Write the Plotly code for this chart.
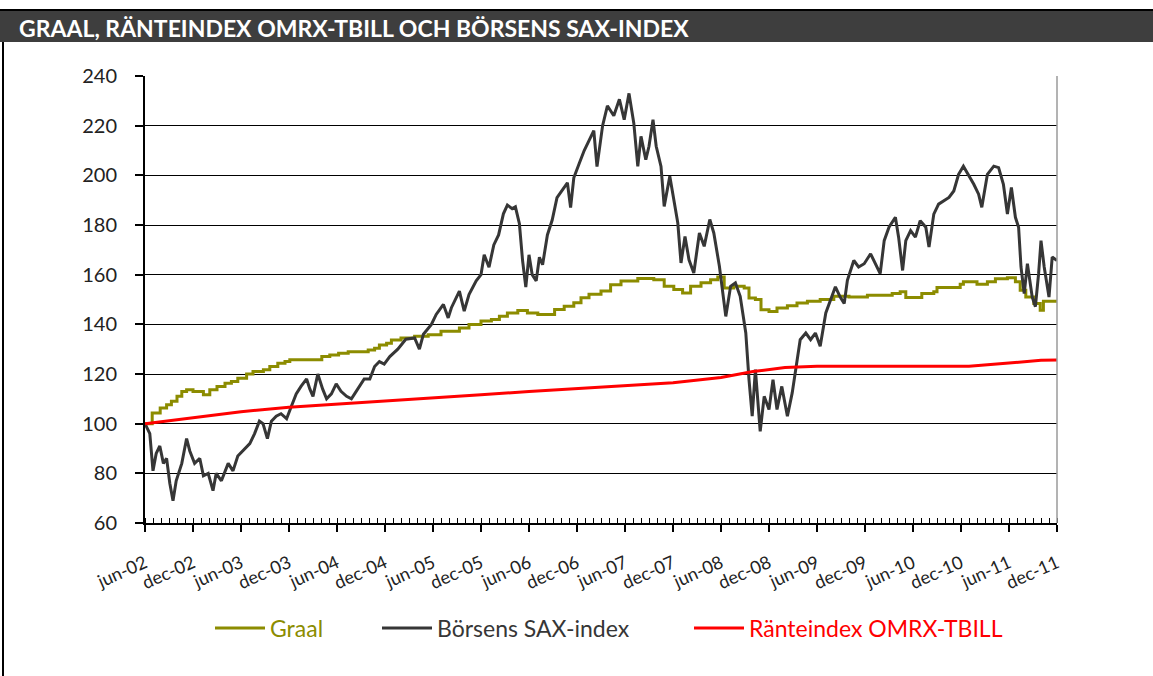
import plotly.graph_objects as go

# x values: months after June 2002
tick_labels = ["jun-02", "dec-02", "jun-03", "dec-03", "jun-04", "dec-04", "jun-05", "dec-05",
               "jun-06", "dec-06", "jun-07", "dec-07", "jun-08", "dec-08", "jun-09", "dec-09",
               "jun-10", "dec-10", "jun-11", "dec-11"]
tick_months = [6 * i for i in range(len(tick_labels))]

sax_m = [0.0, 0.6, 1.0, 1.4, 1.85, 2.3, 2.7, 3.1, 3.5, 3.9, 4.6, 5.2, 5.6, 6.2, 6.85, 7.3, 7.9, 8.5, 8.9,
         9.55, 10.4, 11.0, 11.6, 12.5, 13.1, 13.7, 14.3, 14.75, 15.3, 15.8, 16.4, 17.0, 17.7, 18.3, 18.9,
         19.5, 20.2, 20.6, 21.0, 21.6, 22.2, 22.7, 23.3, 23.9, 24.5, 25.2, 25.8, 26.2, 26.8, 27.4, 28.1,
         28.7, 29.3, 29.9, 30.6, 31.6, 32.6, 33.7, 34.3, 34.8, 35.8, 36.4, 37.3, 37.9, 38.3, 39.3, 39.9,
         40.5, 41.4, 42.0, 42.4, 43.0, 43.6, 44.2, 44.8, 45.3, 45.9, 46.3, 46.8, 47.2, 47.6, 48.0, 48.4,
         48.9, 49.3, 49.7, 50.3, 50.9, 51.5, 52.2, 52.8, 53.2, 53.6, 54.3, 54.9, 55.5, 56.1, 56.5, 57.2,
         57.8, 58.6, 59.3, 59.9, 60.5, 61.1, 61.6, 62.0, 62.6, 63.0, 63.5, 63.9, 64.5, 64.9, 65.6, 66.1,
         66.6, 67.0, 67.5, 68.0, 68.6, 69.3, 69.9, 70.6, 71.1, 71.8, 72.2, 72.6, 73.2, 73.8, 74.4, 75.1,
         75.5, 75.9, 76.3, 76.9, 77.4, 78.0, 78.5, 79.0, 79.6, 80.3, 80.9, 81.3, 81.9, 82.6, 83.2, 83.8,
         84.4, 85.1, 85.7, 86.3, 86.9, 87.4, 87.8, 88.6, 89.2, 89.9, 90.7, 91.3, 91.9, 92.4, 93.0, 93.8,
         94.2, 94.7, 95.1, 95.7, 96.3, 96.9, 97.6, 98.0, 98.6, 99.2, 99.9, 100.5, 101.1, 101.7, 102.3,
         102.9, 103.6, 104.2, 104.6, 105.3, 106.1, 106.7, 107.3, 107.8, 108.3, 108.8, 109.2, 109.5,
         109.9, 110.3, 110.9, 111.3, 111.7, 112.0, 112.4, 113.0, 113.4, 114.0]
sax_v = [100, 96, 81, 88, 91, 84, 86, 76, 69, 77, 84, 94, 89, 84, 86, 79, 80, 73, 80,
         77, 84, 81, 87, 90, 92, 96, 101, 100, 94, 101, 103, 104, 102, 107, 112,
         115, 118, 114, 111, 120, 114, 110, 112, 116, 113, 111, 110, 112, 115, 118, 118,
         123, 125, 124, 127, 130, 134, 134.5, 130, 136, 140, 144, 148, 142.6, 146.7, 153.4, 145.3,
         152, 157.5, 160, 168, 163, 172, 176, 184.5, 188, 186.6, 187.3, 180.5, 165.6, 155, 168, 160,
         157.5, 167, 164, 176, 182, 191, 194, 197, 187, 199, 205, 210, 214, 218, 203.5, 220,
         228, 224, 230.6, 222.4, 233, 221, 203.6, 215.7, 206.3, 211.7, 222.4, 211.7, 203.6, 187.5, 199.6, 190.2,
         180.8, 164.7, 175.4, 166, 160.7, 176.8, 171.4, 182.2, 176.8, 163.4, 154, 143.2, 155.3, 156.7, 151.3, 136.5,
         117.7, 103, 121.8, 96.9, 111, 105.7, 117.7, 105.7, 115, 103, 112.4, 120.4, 133.8, 136.5, 133.8, 136.5,
         131.2, 144.6, 150, 155.1, 151, 148.4, 157.7, 165.7, 163.1, 164.4, 168.4, 164.4, 160.4, 173.7, 179.1, 183.1,
         175.1, 161.7, 173.7, 177.7, 175.1, 181.7, 179.1, 171.1, 184.4, 188.4, 189.7, 191.1, 193.7, 200.4, 203.7,
         200.4, 196.4, 192.4, 187.1, 200.4, 203.7, 203.1, 196.4, 184.4, 195.1, 183.1, 179.1, 163.1,
         152.4, 164.4, 151, 147.1, 160.4, 173.7, 163.1, 151, 167.1, 165.7]

graal_m = [0, 0.9, 1.9, 2.7, 3.3, 4.0, 4.6, 5.2, 6.0, 7.3, 8.1, 9.0, 10.0, 10.8, 11.6, 12.7, 13.5, 14.8,
           15.6, 16.6, 17.5, 18.1, 22.1, 23.1, 24.2, 25.4, 27.9, 28.7, 29.3, 30.2, 30.8, 32.0, 33.7, 35.4,
           37.0, 39.3, 40.5, 42.0, 43.3, 44.3, 45.3, 46.6, 47.8, 49.1, 51.2, 52.4, 53.6, 54.5, 55.5, 57.0,
           58.2, 59.5, 61.6, 63.6, 64.9, 66.1, 67.2, 68.2, 69.5, 70.7, 71.6, 72.4, 73.6, 74.9, 75.5, 76.3,
           77.0, 78.0, 79.0, 80.3, 81.5, 82.8, 84.4, 86.1, 88.0, 90.3, 93.4, 94.4, 95.1, 97.1, 98.6, 99.0,
           101.9, 102.3, 104.0, 105.3, 106.3, 107.8, 108.8, 109.4, 110.1, 111.1, 111.9, 112.3, 114.0]
graal_v = [100, 104.3, 106.3, 107.6, 109, 111, 113, 113.7, 113, 111.6, 113.7, 115, 116.3, 117, 118.3, 120, 121, 121.7,
           123, 124.3, 125, 125.7, 127, 127.7, 128.4, 129, 129.7, 130.4, 131.7, 132.4, 133.7, 134.5, 135.2, 135.8,
           137.2, 138.5, 139.9, 141.3, 141.9, 143.3, 144.6, 145.6, 144.6, 144, 146, 147.3, 148.7, 150.7, 152.1, 153.4,
           155.9, 157.5, 158.5, 158, 155.3, 154, 152.6, 155.3, 156.7, 158, 159.1, 154.6, 155.3, 154.6, 150.6, 150,
           145.9, 145.2, 146.6, 147.5, 148.6, 149.3, 150, 151.3, 151, 151.7, 152.4, 153.1, 150.8, 152.4, 153.1, 154.8,
           156.1, 157.1, 156.1, 157.1, 158.4, 158.8, 157.1, 153.7, 151, 148.4, 145.7, 149.3, 149.3]

omrx_m = [0, 6, 12, 18, 24, 30, 36, 42, 48, 54, 60, 66, 72, 76, 80, 84, 96, 103, 108, 112, 114]
omrx_v = [100, 102.5, 104.8, 106.6, 107.8, 108.9, 110.2, 111.6, 113.0, 114.2, 115.2, 116.5, 118.6,
          121, 122.6, 123.1, 123.1, 123.1, 124.4, 125.5, 125.6]

C_GRAAL = "#8c8c00"
C_SAX = "#363636"
C_RED = "#ff0000"
FONT = "Lato"

W, H = 1153, 676
L, R, T, B = 145, 1057, 76, 523
pw, ph = R - L, B - T


def px(x):
    return (x - L) / pw


def py(y):
    return (B - y) / ph


fig = go.Figure()
fig.add_trace(go.Scatter(x=graal_m, y=graal_v, mode="lines", line=dict(color=C_GRAAL, width=3, shape="hv"),
                         name=f"<span style='color:{C_GRAAL}'>Graal</span>", legend="legend"))
fig.add_trace(go.Scatter(x=sax_m, y=sax_v, mode="lines", line=dict(color=C_SAX, width=3),
                         name=f"<span style='color:{C_SAX}'>Börsens SAX-index</span>", legend="legend2"))
fig.add_trace(go.Scatter(x=omrx_m, y=omrx_v, mode="lines", line=dict(color=C_RED, width=3),
                         name=f"<span style='color:{C_RED}'>Ränteindex OMRX-TBILL</span>", legend="legend3"))


def leg(xpix):
    return dict(orientation="h", x=px(xpix), xanchor="left", y=py(628), yanchor="middle",
                font=dict(family=FONT, size=23), itemwidth=50, bgcolor="rgba(0,0,0,0)",
                borderwidth=0)


fig.update_layout(
    width=W, height=H, autosize=False,
    margin=dict(l=L, r=W - R, t=T, b=H - B, pad=0),
    paper_bgcolor="white", plot_bgcolor="white",
    font=dict(family=FONT, size=18, color="#222222"),
    showlegend=True,
    legend=leg(210), legend2=leg(377), legend3=leg(689),
    xaxis=dict(range=[0, 114], tickmode="array", tickvals=tick_months, ticktext=tick_labels,
               tickangle=-24, ticks="outside", ticklen=7, tickwidth=1.5, tickcolor="black",
               showline=True, linecolor="black", linewidth=2, showgrid=False, zeroline=False,
               tickfont=dict(family=FONT, size=18, color="#222222"), ticklabelstandoff=14,
               minor=dict(dtick=1, tick0=0, ticks="inside", ticklen=5, tickwidth=1, tickcolor="black",
                          showgrid=False)),
    yaxis=dict(range=[60, 240], dtick=20, tick0=60, ticks="outside", ticklen=8, tickwidth=1.5,
               tickcolor="black", showline=True, linecolor="black", linewidth=2,
               showgrid=True, gridcolor="black", gridwidth=1, zeroline=False,
               tickfont=dict(family=FONT, size=20, color="#222222"), ticklabelstandoff=14),
    shapes=[
        # title bar
        dict(type="rect", xref="paper", yref="paper", x0=px(0), x1=px(W), y0=py(42), y1=py(11),
             fillcolor="#3e3e3e", line=dict(width=0), layer="below"),
        dict(type="line", xref="paper", yref="paper", x0=px(0), x1=px(W), y0=py(10), y1=py(10),
             line=dict(color="black", width=2)),
        # left frame line
        dict(type="line", xref="paper", yref="paper", x0=px(3), x1=px(3), y0=py(42), y1=py(H),
             line=dict(color="black", width=2)),
        # plot area right border
        dict(type="line", xref="paper", yref="paper", x0=1, x1=1, y0=0, y1=1,
             line=dict(color="#9a9a9a", width=1.5)),
    ],
    annotations=[
        dict(text="<b>GRAAL, RÄNTEINDEX OMRX-TBILL OCH BÖRSENS SAX-INDEX</b>", xref="paper", yref="paper",
             x=px(17), y=py(28), xanchor="left", yanchor="middle", showarrow=False,
             font=dict(family=FONT, size=23, color="white")),
    ],
)

fig.write_html("out.html", config={"displayModeBar": False},
               post_script="document.body.style.margin='0px';")
